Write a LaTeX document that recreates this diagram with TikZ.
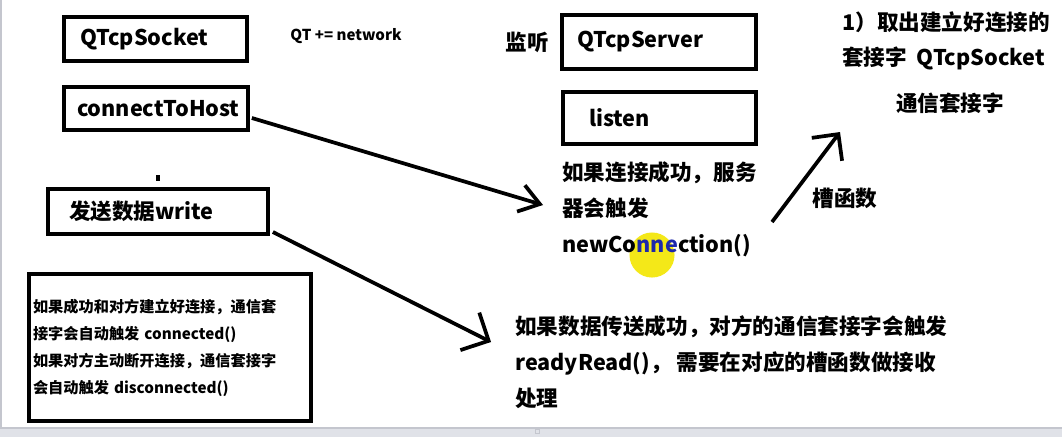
\documentclass[tikz,border=0pt]{standalone}
\usepackage{fontspec}
\setmainfont{Noto Sans CJK SC}
\usetikzlibrary{arrows.meta,calc}
\definecolor{hl}{RGB}{244,232,24}
\definecolor{nblue}{RGB}{30,40,170}
\definecolor{barc}{RGB}{224,226,232}
\definecolor{barl}{RGB}{196,198,206}
\newcommand\BigTxt{\bfseries\fontsize{16.2pt}{27pt}\selectfont}
\newcommand\SmallTxt{\bfseries\fontsize{11.4pt}{20.25pt}\selectfont}
\newcommand\NetTxt{\bfseries\fontsize{11.3pt}{13pt}\selectfont}
\begin{document}
\begin{tikzpicture}[x=0.75pt,y=-0.75pt,
  bx/.style={draw, line width=2.8pt, inner ysep=0pt, align=left, font=\BigTxt},
  txt/.style={inner sep=0pt, align=left, font=\BigTxt},
  arr/.style={line width=2.8pt}]
\useasboundingbox (0,0) rectangle (1062,437);
\fill[white] (0,0) rectangle (1062,437);
% screen edges
\fill[barc] (0,428) rectangle (1062,437);
\draw[barl, line width=0.8pt] (0,428) -- (1062,428);
\fill[barl] (0,0) rectangle (2,428);
\draw[barl, line width=0.5pt] (535,429.5) rectangle (539,433.5);
% highlight of the pointer
\fill[hl] (652,255) circle (16.9pt);

% left column
\node[bx, minimum height=33pt, inner xsep=12pt, text width=113.25pt] (sock) at (155.5,39) {QTcpSocket};
\node[bx, minimum height=32.25pt, inner xsep=9.75pt, text width=118.5pt] (cth) at (156,108.5) {connectToHost};
\fill (156,175) rectangle (160,181);
\node[bx, minimum height=33.75pt, inner xsep=15.75pt, text width=133.5pt] (wr) at (158,211.5) {发送数据write};
\node[bx, minimum height=110.25pt, inner xsep=3pt, text width=205.5pt, font=\SmallTxt] (info) at (170,347.5)
  {如果成功和对方建立好连接，通信套\\接字会自动触发 connected()\\如果对方主动断开连接，通信套接字\\会自动触发 disconnected()};
\node[txt, font=\NetTxt, anchor=center] (net) at (346,36) {QT += network};

% server column
\node[txt, anchor=center] (jt) at (527,42) {监听};
\node[bx, minimum height=40.5pt, inner xsep=11.25pt, text width=123pt] (srv) at (659,42) {QTcpServer};
\node[bx, minimum height=39pt, inner xsep=19.5pt, text width=105.75pt] (lis) at (659.5,118) {listen};
\node[txt, anchor=west] (srvtxt) at (562,209)
  {如果连接成功，服务\\器会触发\\newCo{\color{nblue}nne}ction()};

% right column
\node[txt, anchor=west, font=\bfseries\fontsize{16.2pt}{26.25pt}\selectfont] (tr) at (842,40.5)
  {1）取出建立好连接的\\套接字\hspace{0.45em}QTcpSocket};
\node[txt, anchor=center] (tx) at (950,103) {通信套接字};
\node[txt, anchor=center] (slot) at (845,198) {槽函数};
\node[txt, anchor=west] (rtxt) at (515,362)
  {如果数据传送成功，对方的通信套接字会触发\\readyRead()， 需要在对应的槽函数做接收\\处理};

% connectors
\draw[arr, -{Straight Barb[length=14.8pt,width=20.6pt]}]
  ($(cth.east)+(2,9.5)$) -- ($(srvtxt.west)+(-19,-4)$);
\draw[arr, -{Straight Barb[length=15.8pt,width=31.5pt]}]
  ($(wr.east)+(3,20.5)$) -- ($(rtxt.west)+(-24,-20)$);
\draw[arr, -{Straight Barb[length=14.3pt,width=28.5pt]}]
  ($(srvtxt.west)+(210,13)$) -- ($(tx.center)+(-110,29)$);
\end{tikzpicture}
\end{document}
